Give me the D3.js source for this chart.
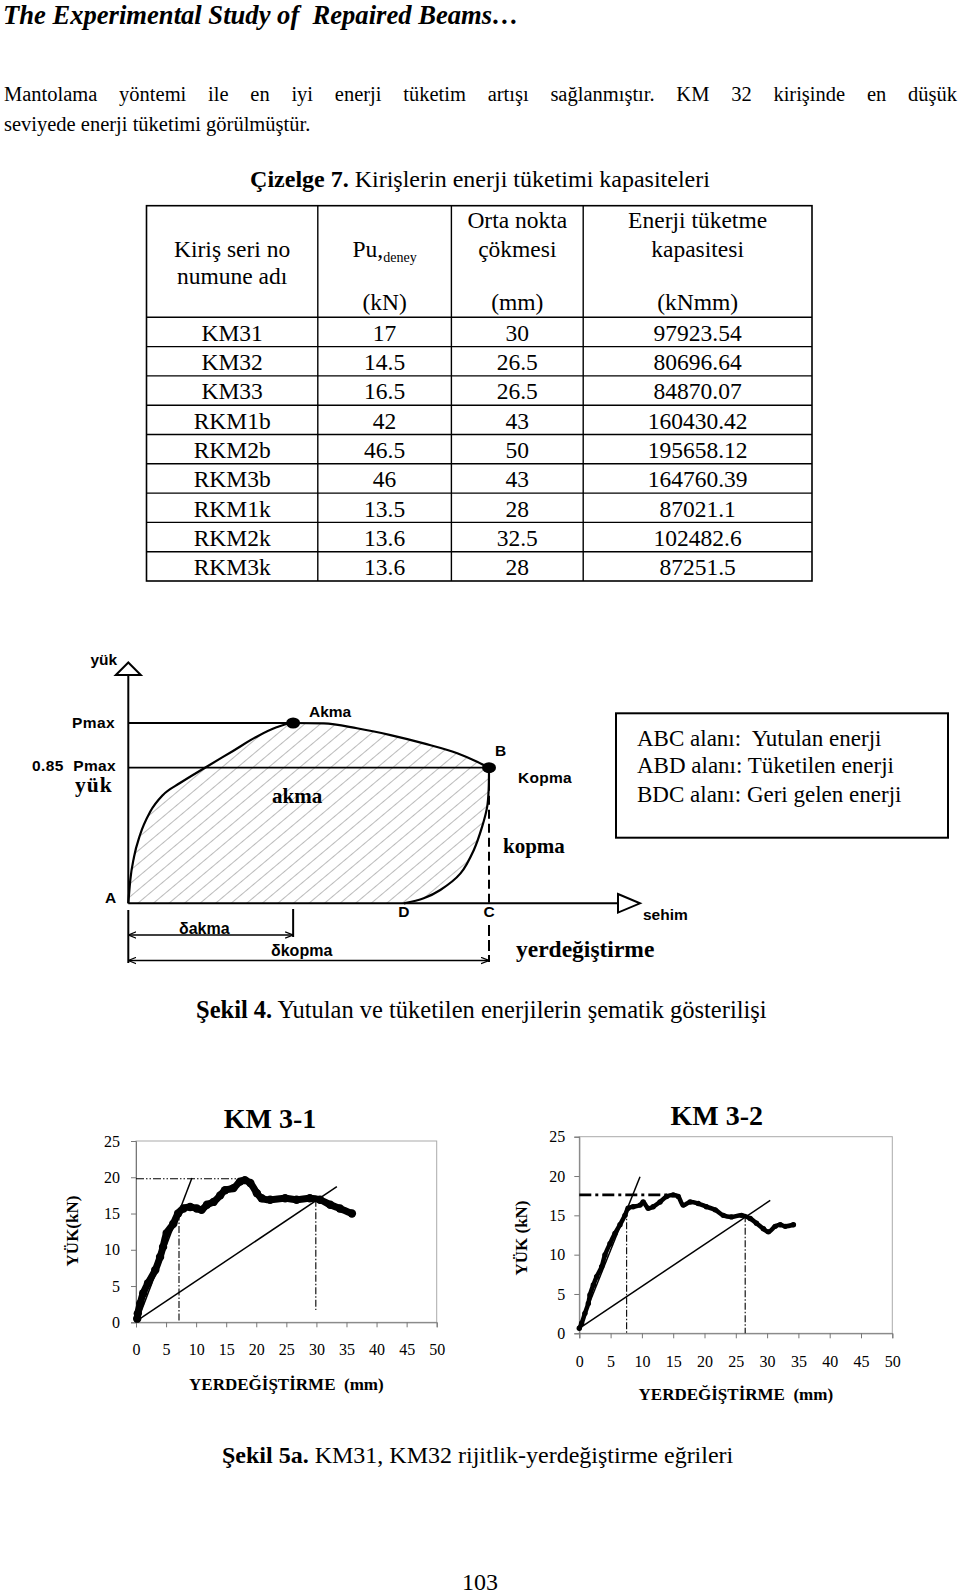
<!DOCTYPE html>
<html><head><meta charset="utf-8">
<script src="https://cdn.jsdelivr.net/npm/d3@7"></script>
<style>body{margin:0;background:#fff}svg{display:block}text{white-space:pre}</style>
</head><body>
<svg id="page" width="960" height="1595"></svg>
<script>
// ---------- DATA ----------
const tableRows = ["KM31","KM32","KM33","RKM1b","RKM2b","RKM3b","RKM1k","RKM2k","RKM3k"];
const puDeney   = ["17","14.5","16.5","42","46.5","46","13.5","13.6","13.6"];
const ortaNokta = ["30","26.5","26.5","43","50","43","28","32.5","28"];
const enerjiKap = ["97923.54","80696.64","84870.07","160430.42","195658.12","164760.39","87021.1","102482.6","87251.5"];

// schematic (normalised: displacement / delta_kopma, load / Pmax)
const upperX = [0,0.0055,0.0158,0.0324,0.0602,0.0962,0.1433,0.2126,0.2903,0.356,0.411,0.457,0.542,0.634,0.727,0.819,0.912,0.967,1];
const upperY = [0,0.129,0.257,0.379,0.506,0.601,0.667,0.752,0.845,0.924,0.976,1,0.998,0.971,0.933,0.887,0.832,0.785,0.752];
const lowerX = [1,0.999,0.995,0.981,0.958,0.921,0.865,0.819,0.764];
const lowerY = [0.752,0.627,0.536,0.425,0.296,0.166,0.074,0.028,0];
const akmaPt = [0.457,1];
const bPt = [1,0.752];
const dPt = [0.764,0];

const xTicks = [0,5,10,15,20,25,30,35,40,45,50];
const yTicks = [0,5,10,15,20,25];

const km31X = [0.2,0.3,0.7,1.2,2.0,3.2,4.0,4.5,5.1,6.2,7.0,7.9,9.0,10.1,10.9,11.8,12.9,14.0,14.8,16.2,17.3,18.1,19.0,20.1,20.9,22.3,24.8,26.7,28.9,30.6,32.3,33.9,35.9];
const km31Y = [0.5,1.2,2.6,4.0,5.4,7.2,9.0,10.4,12.3,13.6,15.0,15.7,15.9,15.7,15.5,16.2,16.6,17.5,18.2,18.5,19.4,19.6,19.2,17.8,17.1,16.9,17.1,16.9,17.1,16.9,16.2,15.7,15.0];
const km31Tangent = [[0.3,0.3],[9.3,19.9]];
const km31Secant  = [[0.3,0.3],[33.4,18.7]];
const km31PmaxLine = [[0,19.8],[17.3,19.8]];
const km31Vert1 = [[7.15,15.0],[7.15,0]];
const km31Vert2 = [[29.9,16.9],[29.9,1.7]];

const km32X = [0,0.37,0.9,1.44,1.7,2.24,2.77,3.57,4.1,4.9,5.7,6.5,7.3,7.8,8.6,9.7,10.2,11.0,11.8,12.9,13.95,15.0,15.8,16.6,17.7,19.0,20.3,21.7,23.0,24.3,25.9,27.3,28.3,29.4,30.2,31.3,32.1,32.9,34.2];
const km32Y = [0.64,1.27,2.54,3.8,4.87,6.14,7.2,8.47,9.96,11.4,12.7,13.8,15.0,15.9,16.1,16.3,16.7,15.9,16.1,16.7,17.4,17.6,17.4,16.3,16.7,16.5,16.1,15.7,15.0,14.8,15.0,14.6,14.0,13.3,12.9,13.6,13.8,13.6,13.8];
const km32Tangent = [[0,0.64],[9.7,19.9]];
const km32Secant  = [[0,0.64],[30.5,16.9]];
const km32PmaxLine = [[0,17.6],[15.0,17.6]];
const km32Vert1 = [[7.56,15.7],[7.56,0]];
const km32Vert2 = [[26.5,15.0],[26.5,0]];

// ---------- DRAW ----------
const SERIF = "'Liberation Serif','Times New Roman',serif";
const SANS = "'Liberation Sans',Arial,sans-serif";
const svg = d3.select("#page");
svg.append("rect").attr("width",960).attr("height",1595).attr("fill","#fff");

function txt(x,y,s,size,opts={}){
  const t = svg.append("text").attr("x",x).attr("y",y).text(s)
    .attr("font-family",opts.family||SERIF).attr("font-size",size)
    .attr("fill","#000");
  if(opts.weight) t.attr("font-weight",opts.weight);
  if(opts.style) t.attr("font-style",opts.style);
  if(opts.anchor) t.attr("text-anchor",opts.anchor);
  if(opts.ls) t.attr("letter-spacing",opts.ls);
  return t;
}

// header
txt(3,24,"The Experimental Study of  Repaired Beams…",26.6,{weight:"bold",style:"italic"});

// paragraph
const l1 = txt(4,101,"Mantolama yöntemi ile en iyi enerji tüketim artışı sağlanmıştır. KM 32 kirişinde en düşük",20.5);
const nat = l1.node().getComputedTextLength();
const nsp = (l1.text().match(/ /g)||[]).length;
l1.attr("word-spacing",(953-nat)/nsp);
txt(4,131,"seviyede enerji tüketimi görülmüştür.",20.5);

// table caption
const cap = svg.append("text").attr("x",480).attr("y",187).attr("text-anchor","middle")
  .attr("font-family",SERIF).attr("font-size",24);
cap.append("tspan").attr("font-weight","bold").text("Çizelge 7.");
cap.append("tspan").text(" Kirişlerin enerji tüketimi kapasiteleri");

// table
const colEdges = [146.5,317.8,451.4,583.2,812];
const tTop = 205.7, hBot = 317.3, rowH = 29.3;
const tBot = hBot + rowH*tableRows.length;
const tg = svg.append("g");
tg.append("rect").attr("x",colEdges[0]).attr("y",tTop).attr("width",colEdges[4]-colEdges[0]).attr("height",tBot-tTop)
  .attr("fill","none").attr("stroke","#000").attr("stroke-width",1.6);
tg.selectAll("line.v").data(colEdges.slice(1,4)).join("line")
  .attr("x1",d=>d).attr("x2",d=>d).attr("y1",tTop).attr("y2",tBot).attr("stroke","#000").attr("stroke-width",1.4);
tg.selectAll("line.h").data(d3.range(tableRows.length)).join("line")
  .attr("x1",colEdges[0]).attr("x2",colEdges[4]).attr("y1",i=>hBot+i*rowH).attr("y2",i=>hBot+i*rowH)
  .attr("stroke","#000").attr("stroke-width",1.4);
const cc = d3.range(4).map(i=>(colEdges[i]+colEdges[i+1])/2);
const TS = 23.5;
txt(cc[0],256.7,"Kiriş seri no",TS,{anchor:"middle"});
txt(cc[0],284.3,"numune adı",TS,{anchor:"middle"});
const pu = svg.append("text").attr("x",cc[1]).attr("y",256.7).attr("text-anchor","middle").attr("font-family",SERIF).attr("font-size",TS);
pu.append("tspan").text("Pu,");
pu.append("tspan").attr("font-size",14).attr("dy",5).text("deney");
txt(cc[1],310,"(kN)",TS,{anchor:"middle"});
txt(cc[2],228.3,"Orta nokta",TS,{anchor:"middle"});
txt(cc[2],256.7,"çökmesi",TS,{anchor:"middle"});
txt(cc[2],310,"(mm)",TS,{anchor:"middle"});
txt(cc[3],228.3,"Enerji tüketme",TS,{anchor:"middle"});
txt(cc[3],256.7,"kapasitesi",TS,{anchor:"middle"});
txt(cc[3],310,"(kNmm)",TS,{anchor:"middle"});
[tableRows,puDeney,ortaNokta,enerjiKap].forEach((col,ci)=>{
  tg.selectAll(null).data(col).join("text")
    .attr("x",cc[ci]).attr("y",(d,i)=>hBot+i*rowH+23.4)
    .attr("text-anchor","middle").attr("font-family",SERIF).attr("font-size",TS).text(d=>d);
});

// ---------- schematic ----------
const sx = d3.scaleLinear().domain([0,1]).range([128.3,489]);
const sy = d3.scaleLinear().domain([0,1]).range([903.3,723]);
const defs = svg.append("defs");
const pat = defs.append("pattern").attr("id","hatch").attr("patternUnits","userSpaceOnUse")
  .attr("width",10).attr("height",10).attr("patternTransform","rotate(50)");
pat.append("line").attr("x1",0).attr("y1",0).attr("x2",0).attr("y2",10).attr("stroke","#777").attr("stroke-width",1);
defs.append("marker").attr("id","arr").attr("viewBox","0 0 10 10").attr("refX",10).attr("refY",5)
  .attr("markerWidth",5).attr("markerHeight",5).attr("orient","auto-start-reverse")
  .append("path").attr("d","M0,1 L10,5 L0,9").attr("fill","none").attr("stroke","#000").attr("stroke-width",1.5);

const up = upperX.map((v,i)=>[v,upperY[i]]);
const lo = lowerX.map((v,i)=>[v,lowerY[i]]);
const upGen = d3.line().x(d=>sx(d[0])).y(d=>sy(d[1])).curve(d3.curveMonotoneX);
const loGen = d3.line().x(d=>sx(d[0])).y(d=>sy(d[1])).curve(d3.curveCatmullRom.alpha(0.5));
const upPath = upGen(up), loPath = loGen(lo);
svg.append("path").attr("d",upPath+"L"+loPath.slice(1)+"Z").attr("fill","url(#hatch)").attr("stroke","none");
const sg = svg.append("g").attr("stroke","#000").attr("fill","none");
// axes
sg.append("line").attr("x1",sx(0)).attr("x2",sx(0)).attr("y1",sy(0)).attr("y2",675).attr("stroke-width",2);
sg.append("line").attr("x1",sx(0)).attr("x2",618).attr("y1",sy(0)).attr("y2",sy(0)).attr("stroke-width",2);
sg.append("path").attr("d",`M${sx(0)},662.5 L${sx(0)-12.5},675 L${sx(0)+12.5},675 Z`).attr("fill","#fff").attr("stroke-width",2);
sg.append("path").attr("d",`M618,894 L640,${sy(0)} L618,912.6 Z`).attr("fill","#fff").attr("stroke-width",2);
// Pmax & 0.85Pmax lines
sg.append("line").attr("x1",sx(0)).attr("x2",sx(akmaPt[0])).attr("y1",sy(1)).attr("y2",sy(1)).attr("stroke-width",1.8);
sg.append("line").attr("x1",sx(0)).attr("x2",sx(bPt[0])).attr("y1",sy(bPt[1])).attr("y2",sy(bPt[1])).attr("stroke-width",1.8);
// curves
sg.append("path").attr("d",upPath).attr("stroke-width",2.2);
sg.append("path").attr("d",loPath).attr("stroke-width",2.2);
// dashed vertical B->C, and extension below C
sg.append("line").attr("x1",sx(1)).attr("x2",sx(1)).attr("y1",sy(bPt[1])).attr("y2",sy(0)).attr("stroke-width",2).attr("stroke-dasharray","9,5");
sg.append("line").attr("x1",sx(1)).attr("x2",sx(1)).attr("y1",925).attr("y2",962).attr("stroke-width",2).attr("stroke-dasharray","11,4");
// points
svg.append("ellipse").attr("cx",sx(akmaPt[0])).attr("cy",sy(akmaPt[1])).attr("rx",7).attr("ry",5.5).attr("fill","#000");
svg.append("ellipse").attr("cx",sx(bPt[0])).attr("cy",sy(bPt[1])).attr("rx",7).attr("ry",5.5).attr("fill","#000");
// dimension lines
sg.append("line").attr("x1",sx(0)).attr("x2",sx(0)).attr("y1",910).attr("y2",963).attr("stroke-width",2);
sg.append("line").attr("x1",sx(akmaPt[0])).attr("x2",sx(akmaPt[0])).attr("y1",909).attr("y2",937).attr("stroke-width",2);
sg.append("line").attr("x1",sx(0)).attr("x2",sx(akmaPt[0])).attr("y1",935).attr("y2",935).attr("stroke-width",1.6)
  .attr("marker-start","url(#arr)").attr("marker-end","url(#arr)");
sg.append("line").attr("x1",sx(0)).attr("x2",sx(1)).attr("y1",960.5).attr("y2",960.5).attr("stroke-width",1.6)
  .attr("marker-start","url(#arr)").attr("marker-end","url(#arr)");
// labels
const LS = 15.5;
txt(90.5,665,"yük",LS,{family:SANS,weight:"bold"});
txt(72,727.5,"Pmax",LS,{family:SANS,weight:"bold",ls:0.4});
txt(32,770.5,"0.85  Pmax",LS,{family:SANS,weight:"bold",ls:0.4});
txt(75,792,"yük",21.5,{weight:"bold",ls:1});
txt(309,717,"Akma",LS,{family:SANS,weight:"bold"});
txt(495,756,"B",LS,{family:SANS,weight:"bold"});
txt(518,783,"Kopma",LS,{family:SANS,weight:"bold",ls:0.3});
txt(272,803,"akma",21,{weight:"bold"});
txt(503,853,"kopma",21,{weight:"bold"});
txt(105,903,"A",LS,{family:SANS,weight:"bold"});
txt(sx(dPt[0]),917,"D",LS,{family:SANS,weight:"bold",anchor:"middle"});
txt(sx(1),917,"C",LS,{family:SANS,weight:"bold",anchor:"middle"});
txt(643,920,"sehim",LS,{family:SANS,weight:"bold"});
txt(179,934,"δakma",16,{family:SANS,weight:"bold"});
txt(271,956,"δkopma",16,{family:SANS,weight:"bold"});
txt(516,957,"yerdeğiştirme",23.5,{weight:"bold"});
// legend box
svg.append("rect").attr("x",616).attr("y",713.3).attr("width",332).attr("height",124.4)
  .attr("fill","none").attr("stroke","#000").attr("stroke-width",2);
txt(637,745.7,"ABC alanı:  Yutulan enerji",23);
txt(637,773.3,"ABD alanı: Tüketilen enerji",23);
txt(637,801.7,"BDC alanı: Geri gelen enerji",23);
// caption 4
const c4 = svg.append("text").attr("x",196).attr("y",1018).attr("font-family",SERIF).attr("font-size",24.5);
c4.append("tspan").attr("font-weight","bold").text("Şekil 4.");
c4.append("tspan").text(" Yutulan ve tüketilen enerjilerin şematik gösterilişi");

// ---------- charts ----------
function chart(cfg){
  const x = d3.scaleLinear().domain([0,50]).range([cfg.x0,cfg.x1]);
  const y = d3.scaleLinear().domain([0,25]).range([cfg.y0,cfg.y1]);
  const g = svg.append("g");
  g.append("rect").attr("x",cfg.x0).attr("y",cfg.y1).attr("width",cfg.x1-cfg.x0).attr("height",cfg.y0-cfg.y1)
    .attr("fill","none").attr("stroke","#aaa").attr("stroke-width",1);
  const ya = g.append("g").attr("transform",`translate(${cfg.x0},0)`)
    .call(d3.axisLeft(y).tickValues(yTicks).tickSize(5).tickPadding(cfg.yPad).tickFormat(d3.format("d")));
  const xa = g.append("g").attr("transform",`translate(0,${cfg.y0})`)
    .call(d3.axisBottom(x).tickValues(xTicks).tickSize(5).tickPadding(cfg.xPad).tickFormat(d3.format("d")));
  [ya,xa].forEach(a=>{
    a.selectAll("path.domain").attr("stroke","#777");
    a.selectAll(".tick line").attr("stroke","#777");
    a.selectAll("text").attr("font-family",SERIF).attr("font-size",16).attr("fill","#000");
  });
  const l = d3.line().x(d=>x(d[0])).y(d=>y(d[1]));
  g.append("path").attr("d",l(cfg.tangent)).attr("stroke","#000").attr("stroke-width",1.5).attr("fill","none");
  g.append("path").attr("d",l(cfg.secant)).attr("stroke","#000").attr("stroke-width",1.5).attr("fill","none");
  g.append("path").attr("d",l(cfg.pmax)).attr("stroke","#000").attr("stroke-width",cfg.pmaxW).attr("fill","none").attr("stroke-dasharray",cfg.pmaxDash);
  [cfg.v1,cfg.v2].forEach(v=>g.append("path").attr("d",l(v)).attr("stroke","#000").attr("stroke-width",1.1).attr("fill","none").attr("stroke-dasharray","7,2,1.5,2"));
  const pts = cfg.dx.map((v,i)=>[v,cfg.dy[i]]);
  g.append("path").attr("d",l.curve(d3.curveCatmullRom)(pts)).attr("stroke","#000").attr("stroke-width",cfg.lw)
    .attr("fill","none").attr("stroke-linejoin","round").attr("stroke-linecap","round");
  g.selectAll(null).data(pts).join("circle").attr("cx",d=>x(d[0])).attr("cy",d=>y(d[1])).attr("r",cfg.lw*0.6).attr("fill","#000");
  txt(cfg.titleX,cfg.titleY,cfg.title,28,{weight:"bold",anchor:"middle"});
  svg.append("text").attr("transform",`translate(${cfg.ylabX},${cfg.ylabY}) rotate(-90)`).attr("text-anchor","middle")
    .attr("font-family",SERIF).attr("font-weight","bold").attr("font-size",17).text(cfg.ylab);
  txt((cfg.x0+cfg.x1)/2,cfg.xlabY,"YERDEĞİŞTİRME  (mm)",17,{weight:"bold",anchor:"middle"});
}
chart({x0:136,x1:436.7,y0:1322.3,y1:1141,yPad:11,xPad:16.3,dx:km31X,dy:km31Y,lw:7,
  tangent:km31Tangent,secant:km31Secant,pmax:km31PmaxLine,pmaxW:1.1,pmaxDash:"8,2,1.5,2,1.5,2",v1:km31Vert1,v2:km31Vert2,
  title:"KM 3-1",titleX:270,titleY:1127.7,ylab:"YÜK(kN)",ylabX:77.5,ylabY:1231,xlabY:1390});
chart({x0:579.3,x1:892.3,y0:1333.3,y1:1136.7,yPad:9,xPad:17,dx:km32X,dy:km32Y,lw:4.5,
  tangent:km32Tangent,secant:km32Secant,pmax:km32PmaxLine,pmaxW:2.6,pmaxDash:"12,4,3,4",v1:km32Vert1,v2:km32Vert2,
  title:"KM 3-2",titleX:716.7,titleY:1125,ylab:"YÜK (kN)",ylabX:527,ylabY:1238,xlabY:1400});

// caption 5a and page number
const c5 = svg.append("text").attr("x",222).attr("y",1463).attr("font-family",SERIF).attr("font-size",24);
c5.append("tspan").attr("font-weight","bold").text("Şekil 5a.");
c5.append("tspan").text(" KM31, KM32 rijitlik-yerdeğiştirme eğrileri");
txt(480,1589.5,"103",24,{anchor:"middle"});
</script>
</body></html>
